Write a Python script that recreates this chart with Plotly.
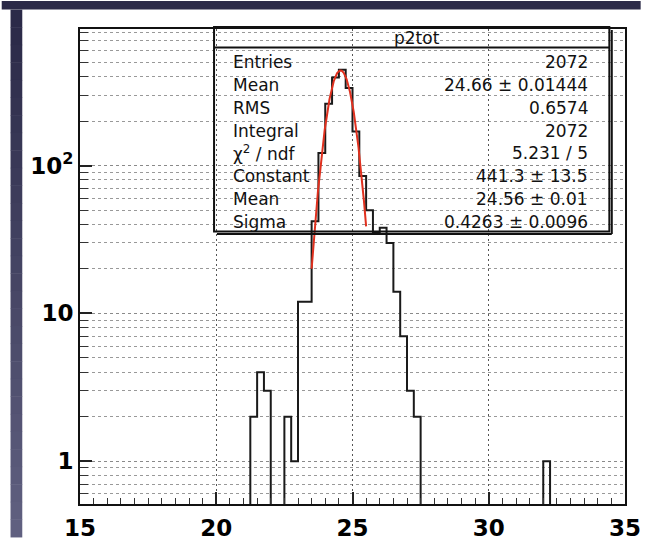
import numpy as np
import plotly.graph_objects as go

# ---- histogram p2tot: 80 bins of width 0.25 on [15, 35] ----
hist_name = "p2tot"
x_min, x_max, n_bins = 15.0, 35.0, 80

# lower edges of the non-empty bins and their contents
filled_bin_low = [21.25, 21.5, 21.75, 22.5, 22.75, 23.0, 23.25, 23.5, 23.75,
                  24.0, 24.25, 24.5, 24.75, 25.0, 25.25, 25.5, 25.75, 26.0,
                  26.25, 26.5, 26.75, 27.0, 27.25, 32.0]
filled_counts = [2, 4, 3, 2, 1, 12, 12, 42, 122,
                 262, 395, 445, 335, 170, 85, 50, 35, 38,
                 30, 14, 7, 3, 2, 1]

# gaussian fit result
fit_constant, fit_mean, fit_sigma = 441.3, 24.56, 0.4263
fit_range = [23.5, 25.5]

# statistics box
stat_labels = ["Entries", "Mean", "RMS", "Integral", "\u03c7<sup>2</sup> / ndf",
               "Constant", "Mean", "Sigma"]
stat_values = ["2072", "24.66 \u00b1 0.01444", "0.6574", "2072", "5.231 / 5",
               "441.3 \u00b1 13.5", "24.56 \u00b1 0.01", "0.4263 \u00b1 0.0096"]

# axes
x_tick_vals = [15, 20, 25, 30, 35]
y_tick_vals = [1, 10, 100]
y_tick_text = ["1", "10", "10<sup>2</sup>"]
y_minor_vals = [0.6, 0.7, 0.8, 0.9, 2, 3, 4, 5, 6, 7, 8, 9,
                20, 30, 40, 50, 60, 70, 80, 90, 200, 300, 400, 500, 600, 700, 800, 900]
y_log_range = [-0.29, 2.925]

# ---- build the step contour ----
width = (x_max - x_min) / n_bins
counts = np.zeros(n_bins)
for lo, c in zip(filled_bin_low, filled_counts):
    counts[int(round((lo - x_min) / width))] = c
edges = x_min + width * np.arange(n_bins + 1)
floor = 1e-3  # empty bins drop below the frame on the log scale
ys = np.where(counts > 0, counts, floor)
step_x = edges
step_y = np.append(ys, ys[-1])

fx = np.linspace(fit_range[0], fit_range[1], 300)
fy = fit_constant * np.exp(-0.5 * ((fx - fit_mean) / fit_sigma) ** 2)

# ---- page geometry (pixels) ----
W, H = 653, 553
L, R, T, B = 80, 637, 29, 519


def px_x(p):
    return (p - L) / (R - L)


def px_y(p):
    return (B - p) / (B - T)


fig = go.Figure()
fig.add_trace(go.Scatter(x=step_x, y=step_y, mode="lines", line_shape="hv",
                         line=dict(color="#1a1a1a", width=2),
                         hoverinfo="skip", showlegend=False))
fig.add_trace(go.Scatter(x=fx, y=fy, mode="lines",
                         line=dict(color="#e0301e", width=2),
                         hoverinfo="skip", showlegend=False))

shapes = []
# dark window bar along the top and a shaded strip on the left
shapes.append(dict(type="rect", xref="paper", yref="paper",
                   x0=px_x(0), x1=px_x(W), y0=px_y(0), y1=px_y(9),
                   fillcolor="#2b2a48", line_width=0, layer="below"))
n_bands = 30
top_rgb = np.array([0x2b, 0x2a, 0x48])
bot_rgb = np.array([0x60, 0x60, 0x80])
for i in range(n_bands):
    t = i / (n_bands - 1)
    c = (top_rgb + (bot_rgb - top_rgb) * t).astype(int)
    y0 = 9 + (H - 9) * i / n_bands
    y1 = 9 + (H - 9) * (i + 1) / n_bands
    shapes.append(dict(type="rect", xref="paper", yref="paper",
                       x0=px_x(9), x1=px_x(21), y0=px_y(y0), y1=px_y(y1 + 0.5),
                       fillcolor="rgb(%d,%d,%d)" % tuple(c), line_width=0,
                       layer="below"))

# statistics box with shadow and header separator
bx0, bx1, by0, by1 = 217, 621, 27, 238
shapes.append(dict(type="line", xref="paper", yref="paper",
                   x0=px_x(bx1 + 2.5), x1=px_x(bx1 + 2.5), y0=px_y(by0 + 3), y1=px_y(by1 + 2.5),
                   line=dict(color="#111", width=2), layer="above"))
shapes.append(dict(type="line", xref="paper", yref="paper",
                   x0=px_x(bx0 + 3), x1=px_x(bx1 + 2.5), y0=px_y(by1 + 2.5), y1=px_y(by1 + 2.5),
                   line=dict(color="#111", width=2), layer="above"))
shapes.append(dict(type="rect", xref="paper", yref="paper",
                   x0=px_x(bx0), x1=px_x(bx1), y0=px_y(by1), y1=px_y(by0),
                   line=dict(color="#111", width=2), fillcolor="rgba(0,0,0,0)",
                   layer="above"))
shapes.append(dict(type="line", xref="paper", yref="paper",
                   x0=px_x(bx0), x1=px_x(bx1), y0=px_y(48), y1=px_y(48),
                   line=dict(color="#111", width=2), layer="above"))

stat_font = dict(family="DejaVu Sans", size=17, color="#111")
annotations = [dict(text=hist_name, xref="paper", yref="paper",
                    x=px_x((bx0 + bx1) / 2 + 5), y=px_y(38), xanchor="center",
                    yanchor="middle", showarrow=False, font=stat_font)]
for i, (lab, val) in enumerate(zip(stat_labels, stat_values)):
    yy = px_y(63 + 23.6 * i)
    annotations.append(dict(text=lab, xref="paper", yref="paper", x=px_x(234), y=yy,
                            xanchor="left", yanchor="middle", showarrow=False,
                            font=stat_font))
    annotations.append(dict(text=val, xref="paper", yref="paper", x=px_x(601), y=yy,
                            xanchor="right", yanchor="middle", showarrow=False,
                            font=stat_font))

tick_font = dict(family="DejaVu Sans", size=23, color="#000", weight="bold")

fig.update_layout(
    width=W, height=H,
    margin=dict(l=L, r=W - R, t=T, b=H - B, pad=0),
    paper_bgcolor="white", plot_bgcolor="white",
    shapes=shapes, annotations=annotations,
    xaxis=dict(range=[x_min, x_max], tickmode="array", tickvals=x_tick_vals,
               ticks="inside", ticklen=12, tickwidth=1.5, tickcolor="#222",
               tickfont=tick_font, ticklabelstandoff=2, ticklabeloverflow="allow",
               showline=True, mirror=True, linecolor="#111",
               linewidth=2, showgrid=True, gridcolor="#555", gridwidth=1.3,
               griddash="2px,3px", zeroline=False,
               minor=dict(dtick=0.5, ticks="inside", ticklen=6, tickwidth=1.2,
                          tickcolor="#333", showgrid=False)),
    yaxis=dict(type="log", range=y_log_range, tickmode="array",
               tickvals=y_tick_vals, ticktext=y_tick_text,
               ticks="inside", ticklen=12, tickwidth=1.5, tickcolor="#222",
               tickfont=tick_font, ticklabelstandoff=0, ticklabeloverflow="allow",
               showline=True, mirror=True, linecolor="#111",
               linewidth=2, showgrid=True, gridcolor="#8a8a8a", gridwidth=1.3,
               griddash="3px,3px", zeroline=False,
               minor=dict(tickmode="array", tickvals=y_minor_vals, ticks="inside",
                          ticklen=8, tickwidth=1.2, tickcolor="#333",
                          showgrid=True, gridcolor="#999999", gridwidth=1.3,
                          griddash="3px,3px")),
)

fig.write_html("out.html")
